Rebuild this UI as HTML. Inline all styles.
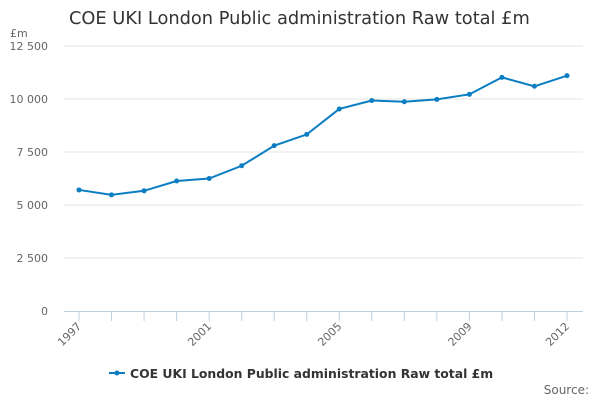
<!DOCTYPE html>
<html><head><meta charset="utf-8"><style>
body{margin:0;background:#fff;font-family:"Liberation Sans","DejaVu Sans",sans-serif;}
svg text{font-family:"DejaVu Sans","Liberation Sans",sans-serif;}
</style></head><body>
<svg id="chart" width="600" height="400">
<text x="69" y="24" font-size="17.8" fill="#333">COE UKI London Public administration Raw total £m</text>
<text x="10" y="37" font-size="11" fill="#666">£m</text>
<g id="grid"></g><g id="xaxis"></g><g id="series"></g>
<g>
<line x1="109" y1="373" x2="125" y2="373" stroke="#0b7dc2" stroke-width="2"/>
<circle cx="117" cy="373" r="2.5" fill="#0b7dc2"/>
<text x="130" y="378" font-size="12.4" font-weight="bold" fill="#333">COE UKI London Public administration Raw total £m</text>
</g>
<text x="589" y="394" font-size="12" fill="#666" text-anchor="end">Source:</text>
</svg>
<script>
const years=[1997,1998,1999,2000,2001,2002,2003,2004,2005,2006,2007,2008,2009,2010,2011,2012];
const values=[5710,5480,5670,6130,6250,6850,7800,8330,9530,9930,9870,9980,10220,11020,10600,11100];
const yTicks=[0,2500,5000,7500,10000,12500];
const yTickLabels=["0","2 500","5 000","7 500","10 000","12 500"];
const xLabelYears=[1997,2001,2005,2009,2012];
const ns="http://www.w3.org/2000/svg";
const x=y=>79+(y-1997)*(567-79)/15;
const yS=v=>311-v*(265/12500);
function mk(t,a,p){const e=document.createElementNS(ns,t);for(const k in a)e.setAttribute(k,a[k]);p.appendChild(e);return e;}
const g=document.getElementById('grid');
yTicks.forEach((v,i)=>{
 if(v>0){const l=mk('line',{x1:64,x2:583,y1:yS(v),y2:yS(v),stroke:'#e6e6e6','stroke-width':1},g);
 
 }
 const t=mk('text',{x:48,y:yS(v)+4,'font-size':11,fill:'#666','text-anchor':'end'},g);t.textContent=yTickLabels[i];
 
 
});
const xa=document.getElementById('xaxis');
const al=mk('line',{x1:64,x2:583,y1:311.5,y2:311.5,stroke:'#c0d0e0','stroke-width':1},xa);


years.forEach(yr=>{
 const t=mk('line',{x1:x(yr),x2:x(yr),y1:311,y2:321,stroke:'#c0d0e0','stroke-width':1},xa);
 
 
});
xLabelYears.forEach(yr=>{
 const t=mk('text',{x:x(yr)+3,y:327,'font-size':11,fill:'#666','text-anchor':'end',transform:`rotate(-45 ${x(yr)+3} 327)`},xa);
 t.textContent=yr;
 
 
});
const s=document.getElementById('series');
const pl=mk('polyline',{points:years.map((yr,i)=>x(yr)+','+yS(values[i])).join(' '),fill:'none',stroke:'#0b7dc2','stroke-width':2},s);


years.forEach((yr,i)=>{
 const c=mk('circle',{cx:x(yr),cy:yS(values[i]),r:2.5,fill:'#0b7dc2'},s);
 
 
});
</script>
</body></html>
